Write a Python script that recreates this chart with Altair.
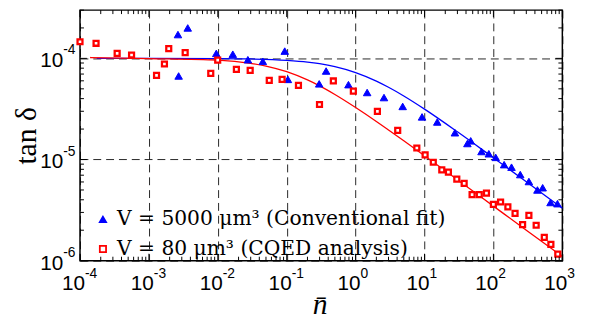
import altair as alt
import pandas as pd

# ---------------- data ----------------
blue_n = [2.64e-3, 3.66e-3, 2.7e-3, 9.5e-3, 1.65e-2, 2.73e-2, 4.5e-2, 9.36e-2, 0.104,
          0.296, 0.373, 0.787, 1.47, 2.58, 4.82, 9.2, 15.3, 27.6, 41.9, 46.8, 67.1,
          85.7, 108, 143, 183, 245, 327, 435, 518, 674, 849]
blue_tan = [1.72e-4, 2.0e-4, 6.7e-5, 1.12e-4, 1.1e-4, 9.7e-5, 9.35e-5, 1.18e-4, 6.2e-5,
            5.6e-5, 7.5e-5, 5.5e-5, 4.6e-5, 4.1e-5, 3.35e-5, 2.64e-5, 2.35e-5, 1.84e-5,
            1.44e-5, 1.53e-5, 1.2e-5, 1.14e-5, 1.05e-5, 8.9e-6, 8.4e-6, 7.1e-6, 6.06e-6,
            5.0e-6, 5.26e-6, 3.76e-6, 3.66e-6]

red_n = [1.0e-4, 1.71e-4, 3.46e-4, 5.6e-4, 1.29e-3, 1.68e-3, 1.94e-3, 3.36e-3, 7.9e-3,
         9.96e-3, 1.86e-2, 2.95e-2, 5.58e-2, 8.57e-2, 0.148, 0.299, 0.475, 0.927, 2.07,
         4.08, 7.73, 10.2, 13.4, 17.8, 22.2, 29.4, 37.6, 49, 62.3, 79.2, 99.8, 127, 162,
         206, 265, 327, 417, 547, 682, 859]
red_tan = [1.46e-4, 1.41e-4, 1.12e-4, 1.08e-4, 6.8e-5, 8.8e-5, 1.25e-4, 1.14e-4, 7.1e-5,
           9.6e-5, 7.8e-5, 7.6e-5, 6.07e-5, 6.2e-5, 5.4e-5, 3.5e-5, 5.98e-5, 4.75e-5,
           2.99e-5, 1.94e-5, 1.3e-5, 1.11e-5, 9.4e-6, 7.9e-6, 7.5e-6, 6.4e-6, 5.8e-6,
           4.5e-6, 4.5e-6, 4.65e-6, 3.6e-6, 3.8e-6, 3.4e-6, 2.94e-6, 2.27e-6, 2.8e-6,
           2.24e-6, 1.7e-6, 1.45e-6, 1.16e-6]

blue_fit_n = [1.75e-4, 1e-3, 1e-2, 3e-2, 0.1, 0.2, 0.3, 0.5, 1, 2, 3, 5, 10, 30, 100, 300, 1000]
blue_fit_tan = [1.0e-4, 1.0e-4, 9.95e-5, 9.87e-5, 9.57e-5, 9.2e-5, 8.86e-5, 8.29e-5, 7.24e-5,
                5.96e-5, 5.18e-5, 4.25e-5, 3.15e-5, 1.88e-5, 1.04e-5, 6.04e-6, 3.3e-6]

red_fit_n = [1.4e-4, 1e-3, 1e-2, 3e-2, 0.05, 0.1, 0.2, 0.3, 0.5, 1, 2, 3, 5, 10, 30, 100, 300, 1000]
red_fit_tan = [1.02e-4, 9.96e-5, 9.61e-5, 8.94e-5, 8.4e-5, 7.39e-5, 6.12e-5, 5.35e-5, 4.4e-5,
               3.27e-5, 2.38e-5, 1.96e-5, 1.53e-5, 1.09e-5, 6.31e-6, 3.46e-6, 2.0e-6, 1.1e-6]

series_labels = ["V = 5000 μm³ (Conventional fit)", "V = 80 μm³ (CQED analysis)"]

x_ticks = [1e-4, 1e-3, 1e-2, 1e-1, 1e0, 1e1, 1e2, 1e3]
x_tick_exps = ["-4", "-3", "-2", "-1", "0", "1", "2", "3"]
y_ticks = [1e-6, 1e-5, 1e-4]
y_tick_exps = ["-6", "-5", "-4"]
tick_base = "10"
x_minor = [m * 10.0 ** e for e in range(-4, 3) for m in range(2, 10)]
y_minor = [m * 10.0 ** e for e in range(-6, -4) for m in range(2, 10)] + [2e-4, 3e-4]

# ---------------- layout ----------------
W, H = 489, 254
xscale = alt.Scale(type="log", domain=[1e-4, 1e3], nice=False)
yscale = alt.Scale(type="log", domain=[1e-6, 3e-4], nice=False)

common_axis = dict(grid=True, gridDash=[8, 5], gridColor="black", gridWidth=1,
                   gridOpacity=0.85, ticks=False, domain=False, labels=False,
                   titleFont="Liberation Serif", titleFontSize=30,
                   titleFontWeight="normal", titleColor="black")

x_axis = alt.Axis(values=x_ticks, title="n\u0304", titleFontStyle="italic",
                  titleX=243, titleY=54, titleAlign="center",
                  titleBaseline="alphabetic", **common_axis)
y_axis = alt.Axis(values=y_ticks, title="tan δ",
                  titleAngle=270, titleX=-45, titleY=127, titleAlign="center",
                  titleBaseline="alphabetic", **common_axis)

df_bfit = pd.DataFrame({"n": blue_fit_n, "tan": blue_fit_tan})
df_rfit = pd.DataFrame({"n": red_fit_n, "tan": red_fit_tan})
df_blue = pd.DataFrame({"n": blue_n, "tan": blue_tan, "series": series_labels[0]})
df_red = pd.DataFrame({"n": red_n, "tan": red_tan, "series": series_labels[1]})

X = alt.X("n:Q", scale=xscale, axis=x_axis)
Y = alt.Y("tan:Q", scale=yscale, axis=y_axis)

blue_line = alt.Chart(df_bfit).mark_line(color="#0000ff", strokeWidth=1.3,
                                         interpolate="monotone").encode(x=X, y=Y)
red_line = alt.Chart(df_rfit).mark_line(color="#ff0000", strokeWidth=1.3,
                                        interpolate="monotone").encode(x=X, y=Y)

legend = alt.Legend(title=None, orient="none", legendX=13, legendY=202,
                    labelFont="DejaVu Serif", labelFontSize=20.5, labelColor="black",
                    labelLimit=600, symbolSize=40, symbolStrokeWidth=1.8,
                    rowPadding=9, labelOffset=4, padding=0)

enc = dict(
    x=X, y=Y,
    shape=alt.Shape("series:N", scale=alt.Scale(domain=series_labels,
                                                range=["triangle-up", "square"]), legend=legend),
    fill=alt.Fill("series:N", scale=alt.Scale(domain=series_labels,
                                              range=["#0000ff", "#ffffff"]), legend=legend),
    stroke=alt.Stroke("series:N", scale=alt.Scale(domain=series_labels,
                                                  range=["#0000ff", "#ff0000"]), legend=legend),
)
blue_pts = alt.Chart(df_blue).mark_point(size=58, strokeWidth=1, opacity=1).encode(**enc)
red_pts = alt.Chart(df_red).mark_point(size=25, strokeWidth=2.3, opacity=1).encode(**enc)


def xticks(vals, y0, y1):
    return alt.Chart(pd.DataFrame({"n": vals})).mark_rule(color="black", strokeWidth=1).encode(
        x=X, y=alt.value(y0), y2=alt.value(y1))


def yticks(vals, x0, x1):
    return alt.Chart(pd.DataFrame({"tan": vals})).mark_rule(color="black", strokeWidth=1).encode(
        y=Y, x=alt.value(x0), x2=alt.value(x1))


tick_layers = [
    xticks(x_minor, H, H - 4), xticks(x_minor, 0, 4),
    xticks(x_ticks, H, H - 7), xticks(x_ticks, 0, 7),
    yticks(y_minor, 0, 4), yticks(y_minor, W, W - 4),
    yticks(y_ticks, 0, 7), yticks(y_ticks, W, W - 7),
]

# tick labels: "10" with a raised exponent
df_xlab = pd.DataFrame({"n": x_ticks, "base": tick_base, "exp": x_tick_exps})
df_ylab = pd.DataFrame({"tan": y_ticks, "base": tick_base, "exp": y_tick_exps})
lab_font = "Liberation Sans"
x_base = alt.Chart(df_xlab).mark_text(font=lab_font, fontSize=21, align="right",
                                      baseline="alphabetic", dx=5, color="black").encode(
    x=X, y=alt.value(H + 30), text="base:N")
x_exp = alt.Chart(df_xlab).mark_text(font=lab_font, fontSize=14, align="left",
                                     baseline="alphabetic", dx=5, color="black").encode(
    x=X, y=alt.value(H + 18), text="exp:N")
y_base = alt.Chart(df_ylab).mark_text(font=lab_font, fontSize=21, align="right",
                                      baseline="alphabetic", dy=9, color="black").encode(
    y=Y, x=alt.value(-17), text="base:N")
y_exp = alt.Chart(df_ylab).mark_text(font=lab_font, fontSize=14, align="left",
                                     baseline="alphabetic", dy=-4, color="black").encode(
    y=Y, x=alt.value(-17), text="exp:N")

chart = alt.layer(blue_line, red_line, blue_pts, red_pts, *tick_layers,
                  x_base, x_exp, y_base, y_exp).properties(
    width=W, height=H,
    padding={"left": 73, "top": 0, "right": 25, "bottom": 58},
    autosize=alt.AutoSizeParams(type="none"),
    background="white",
).configure_view(stroke="black", strokeWidth=1.5)

chart.save("out.html", embed_options={"renderer": "svg", "actions": False})
